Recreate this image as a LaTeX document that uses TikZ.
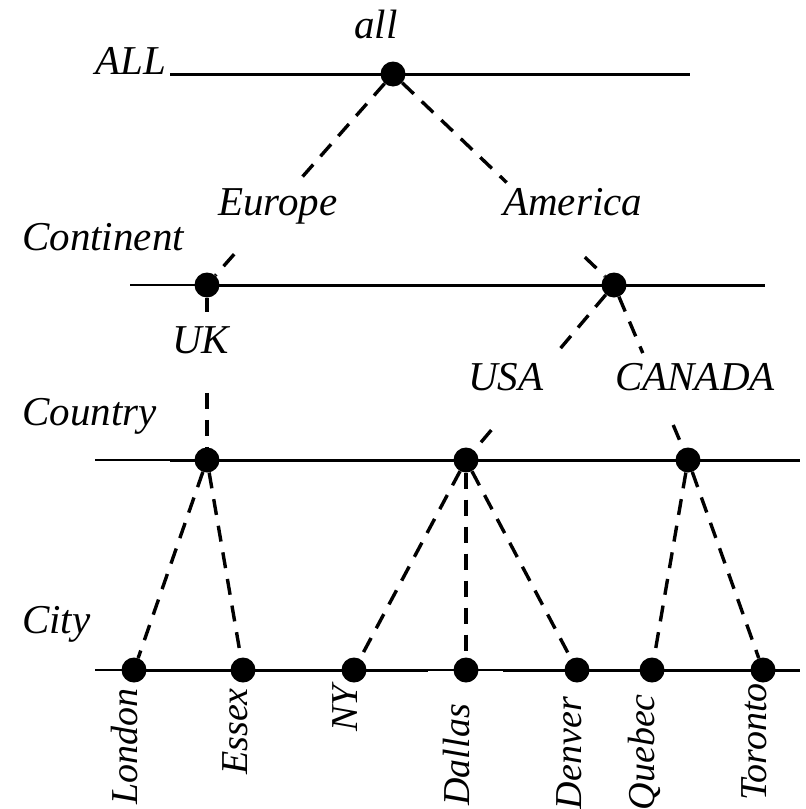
\documentclass[tikz,border=0pt]{standalone}
\usepackage{fontspec}
\setmainfont{Liberation Serif}
\usetikzlibrary{calc}
\begin{document}
\begin{tikzpicture}[x=1pt,y=-1pt,
  dot/.style={circle,fill=black,inner sep=0pt,minimum size=25pt},
  lbl/.style={inner sep=0pt,font=\fontsize{41}{46}\selectfont\itshape},
  lvl/.style={lbl,anchor=base west},
  city/.style={inner sep=0pt,font=\fontsize{38}{44}\selectfont\itshape,rotate=90,anchor=base east},
  heavy/.style={line width=3pt},
  light/.style={line width=1.6pt},
  link/.style={line width=3.4pt,dash pattern=on 16pt off 11pt},
]
\useasboundingbox (0,0) rectangle (806,809);

% level axes: end points
\coordinate (allL) at (170,74);   \coordinate (allR) at (690,74);
\coordinate (conL) at (130,285);  \coordinate (conM) at (195,285); \coordinate (conR) at (765,285);
\coordinate (couL) at (95,460);   \coordinate (couM) at (170,460); \coordinate (couR) at (800,460);
\coordinate (citL) at (95,670);   \coordinate (citA) at (122,670);
\coordinate (citB) at (428,670);  \coordinate (citC) at (503,670); \coordinate (citR) at (800,670);

\draw[heavy] (allL) -- (allR);
\draw[light] (conL) -- (conM);
\draw[heavy] (conM) -- (conR);
\draw[light] (couL) -- (couM);
\draw[heavy] (couM) -- (couR);
\draw[light] (citL) -- (citA);
\draw[heavy] (citA) -- (citB);
\draw[light] (citB) -- (citC);
\draw[heavy] (citC) -- (citR);

% members of each level
\node[dot] (all) at (393,74) {};
\node[dot] (eu)  at (207,285) {};
\node[dot] (am)  at (614,285) {};
\node[dot] (uk)  at (207,460) {};
\node[dot] (usa) at (466,460) {};
\node[dot] (ca)  at (688,460) {};
\node[dot] (lon) at (134,670) {};
\node[dot] (ess) at (243,670) {};
\node[dot] (ny)  at (354,670) {};
\node[dot] (dal) at (466,670) {};
\node[dot] (den) at (577,670) {};
\node[dot] (que) at (652,670) {};
\node[dot] (tor) at (763,670) {};

% roll-up links, broken where a member name sits
\draw[link] (all) -- ($(all)!0.514!(eu)$);
\draw[link] ($(all)!0.854!(eu)$) -- (eu);
\draw[link] (all) -- ($(all)!0.514!(am)$);
\draw[link] ($(all)!0.868!(am)$) -- (am);
\draw[link] (eu) -- ($(eu)!0.154!(uk)$);
\draw[link] ($(eu)!0.617!(uk)$) -- (uk);
\draw[link] (am) -- ($(am)!0.389!(usa)$);
\draw[link] ($(am)!0.829!(usa)$) -- (usa);
\draw[link] (am) -- ($(am)!0.389!(ca)$);
\draw[link] ($(am)!0.80!(ca)$) -- (ca);
\draw[link] (uk) -- (lon);
\draw[link] (uk) -- (ess);
\draw[link] (usa) -- (ny);
\draw[link] (usa) -- (dal);
\draw[link] (usa) -- (den);
\draw[link] (ca) -- (que);
\draw[link] (ca) -- (tor);

% level names
\node[lvl] (tALL) at (95,74)  {ALL};
\node[lvl] (tCon) at (22,250) {Continent};
\node[lvl] (tCou) at (22,425) {Country};
\node[lvl] (tCit) at (22,633) {City};

% member names
\node[lvl] (nAll) at (354,38)  {all};
\node[lvl] (nEu)  at (218,215) {Europe};
\node[lvl] (nAm)  at (503,215) {America};
\node[lvl] (nUK)  at (172,353) {UK};
\node[lvl] (nUSA) at (468,390) {USA};
\node[lvl] (nCa)  at (615,390) {CANADA};

% city names, read upwards, hanging below the city axis
\node[city] (nLon) at (137,688) {London};
\node[city] (nEss) at (247,688) {Essex};
\node[city] (nNY)  at (357,685) {NY};
\node[city] (nDal) at (469,704) {Dallas};
\node[city] (nDen) at (581,697) {Denver};
\node[city] (nQue) at (654,694) {Quebec};
\node[city] (nTor) at (766,683) {Toronto};
\end{tikzpicture}
\end{document}
